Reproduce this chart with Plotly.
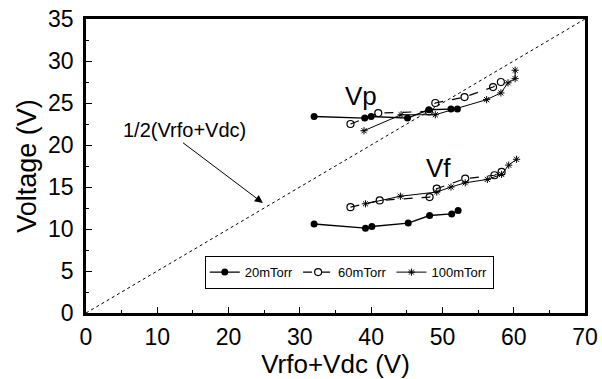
import plotly.graph_objects as go

# ---- data ----
vp20_x = [32.0, 39.1, 40.0, 45.1, 48.1, 51.2, 52.1]
vp20_y = [23.4, 23.2, 23.4, 23.2, 24.2, 24.3, 24.3]
vp60_x = [37.1, 41.0, 48.1, 49.0, 53.1, 57.1, 58.2]
vp60_y = [22.5, 23.8, 24.0, 25.0, 25.7, 26.9, 27.5]
vp100_x = [39.0, 44.2, 49.0, 56.2, 58.2, 59.2, 60.2, 60.2]
vp100_y = [21.7, 23.6, 23.6, 25.4, 26.2, 27.4, 27.9, 28.9]

vf20_x = [32.0, 39.2, 40.1, 45.2, 48.2, 51.3, 52.2]
vf20_y = [10.6, 10.1, 10.3, 10.7, 11.6, 11.8, 12.2]
vf60_x = [37.1, 41.2, 48.2, 49.2, 53.2, 57.3, 58.3]
vf60_y = [12.6, 13.4, 13.8, 14.8, 16.0, 16.4, 16.8]
vf100_x = [39.2, 44.1, 49.2, 51.2, 53.2, 56.3, 58.3, 59.3, 60.4]
vf100_y = [13.0, 13.9, 14.4, 15.0, 15.5, 15.9, 16.5, 17.6, 18.3]

half_x = [0, 70]
half_y = [0, 35]

FONT = "Liberation Sans, Arial, Helvetica, sans-serif"

fig = go.Figure()

fig.add_trace(go.Scatter(x=half_x, y=half_y, mode="lines",
                         line=dict(color="black", width=1, dash="dot"),
                         showlegend=False, hoverinfo="skip"))

styles = {
    "20mTorr": dict(line=dict(color="black", width=1.4, dash="solid"),
                    marker=dict(symbol="circle", size=7, color="black")),
    "60mTorr": dict(line=dict(color="black", width=1.2, dash="dash"),
                    marker=dict(symbol="circle-open", size=7, color="black",
                                line=dict(width=1.2))),
    "100mTorr": dict(line=dict(color="black", width=1, dash="solid"),
                     marker=dict(symbol="asterisk-open", size=6, color="black",
                                 line=dict(width=1))),
}

series = [
    ("20mTorr", vp20_x, vp20_y, vf20_x, vf20_y),
    ("60mTorr", vp60_x, vp60_y, vf60_x, vf60_y),
    ("100mTorr", vp100_x, vp100_y, vf100_x, vf100_y),
]
for name, px, py, fx, fy in series:
    st = styles[name]
    fig.add_trace(go.Scatter(x=px, y=py, mode="lines+markers", name=name,
                             legendgroup=name, showlegend=True, **st))
    fig.add_trace(go.Scatter(x=fx, y=fy, mode="lines+markers", name=name,
                             legendgroup=name, showlegend=False, **st))

fig.add_annotation(x=38.6, y=25.8, text="Vp", showarrow=False,
                   font=dict(family=FONT, size=26, color="black"))
fig.add_annotation(x=49.4, y=17.3, text="Vf", showarrow=False,
                   font=dict(family=FONT, size=26, color="black"))
fig.add_annotation(x=24.8, y=13.1, ax=13.4, ay=20.4, axref="x", ayref="y",
                   text="", showarrow=True, arrowhead=2, arrowsize=1.6,
                   arrowwidth=1, arrowcolor="black")
fig.add_annotation(x=13.8, y=21.8, text="1/2(Vrfo+Vdc)", showarrow=False,
                   font=dict(family=FONT, size=20, color="black"))

axis_common = dict(showgrid=False, zeroline=False, showline=True,
                   linecolor="black", linewidth=2.5, mirror=True,
                   ticks="inside", ticklen=6, tickwidth=1, tickcolor="black",
                   automargin=False,
                   tickfont=dict(family=FONT, size=23, color="black"))

fig.update_xaxes(range=[0, 70], dtick=10, tick0=0,
                 minor=dict(dtick=5, ticks="inside", ticklen=3, tickcolor="black"),
                 ticklabelstandoff=2,
                 title=dict(text="Vrfo+Vdc (V)", font=dict(family=FONT, size=26, color="black"),
                            standoff=3),
                 **axis_common)
fig.update_yaxes(range=[0, 35], dtick=5, tick0=0,
                 minor=dict(dtick=2.5, ticks="inside", ticklen=3, tickcolor="black"),
                 ticklabelstandoff=5,
                 title=dict(text="Voltage (V)", font=dict(family=FONT, size=27, color="black"),
                            standoff=4),
                 **axis_common)

fig.update_layout(
    width=602, height=379,
    margin=dict(l=86, r=17, t=19, b=66),
    paper_bgcolor="white", plot_bgcolor="white",
    font=dict(family=FONT, color="black"),
    legend=dict(orientation="h", x=0.238, y=0.194, xanchor="left", yanchor="top",
                bordercolor="black", borderwidth=1.2, bgcolor="white",
                font=dict(family=FONT, size=13, color="black"),
                itemwidth=30, tracegroupgap=0),
)

fig.write_html("out.html", config={"displayModeBar": False},
               post_script="document.body.style.margin='0';document.body.style.overflow='hidden';")
